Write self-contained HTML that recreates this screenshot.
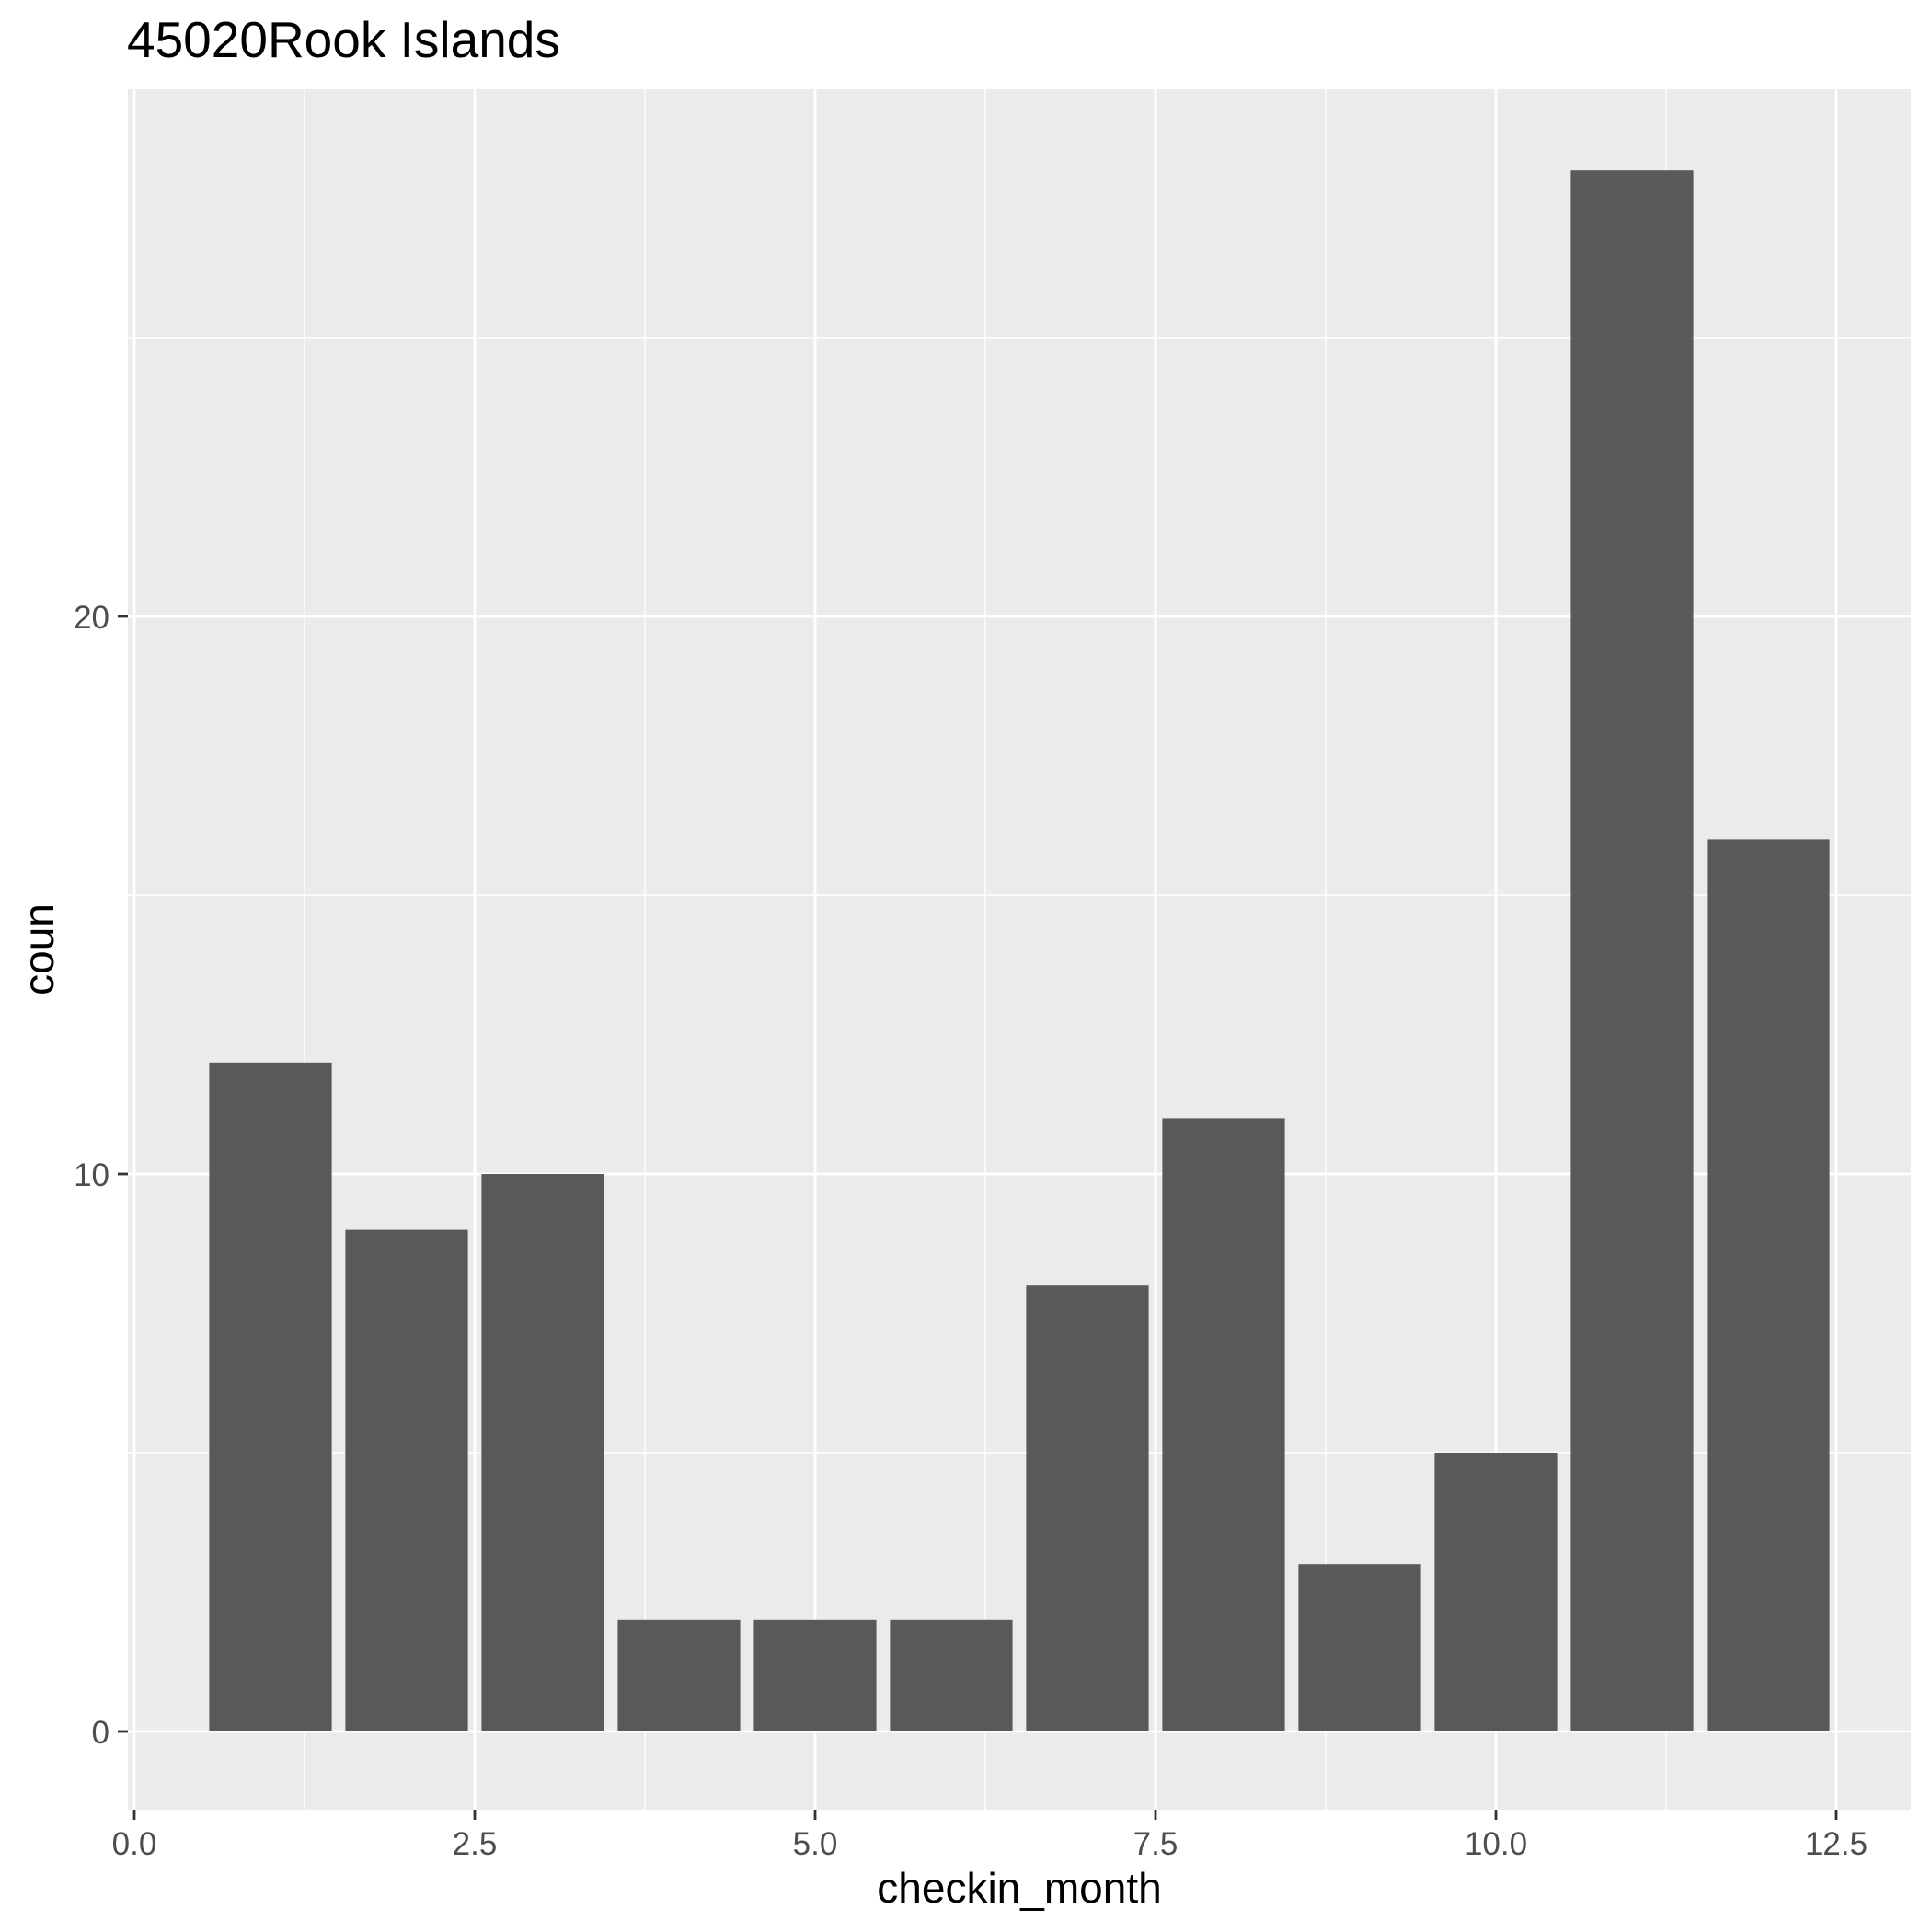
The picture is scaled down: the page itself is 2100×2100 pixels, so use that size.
<!DOCTYPE html>
<html><head><meta charset="utf-8"><style>
html,body{margin:0;padding:0;background:#fff;}
svg{display:block;font-family:"Liberation Sans",Arial,sans-serif;}
</style></head><body>
<svg id="chart" width="2100" height="2100" xmlns="http://www.w3.org/2000/svg">
<text x="138" y="62" font-size="55" fill="#000">45020Rook Islands</text>
<rect x="139" y="97" width="1938" height="1870" fill="#ebebeb"/>
<g id="grid"></g>
<g id="bars"></g>
<g id="axes"></g>
<text x="1108" y="2068" font-size="46" text-anchor="middle" fill="#000">checkin_month</text>
<text transform="translate(58,1032) rotate(-90)" font-size="46" text-anchor="middle" fill="#000">coun</text>
</svg>
<script>
const months = [1,2,3,4,5,6,7,8,9,10,11,12];
const counts = [12,9,10,2,2,2,8,11,3,5,28,16];
const xTicks = [0,2.5,5,7.5,10,12.5];
const xTickLabels = ["0.0","2.5","5.0","7.5","10.0","12.5"];
const yTicks = [0,10,20];
const yTickLabels = ["0","10","20"];

const NS="http://www.w3.org/2000/svg";
const PL=139,PR=2077,PT=97,PB=1967;
function xs(v){return 146+v*148;}
function ys(v){return 1882-v*60.6;}
function mk(tag,attrs,parent){const e=document.createElementNS(NS,tag);for(const k in attrs)e.setAttribute(k,attrs[k]);parent.appendChild(e);return e;}
const grid=document.getElementById('grid'),bars=document.getElementById('bars'),axes=document.getElementById('axes');
for(let i=0;i<xTicks.length-1;i++){const v=(xTicks[i]+xTicks[i+1])/2;
 const l=mk('line',{x1:xs(v),x2:xs(v),y1:PT,y2:PB,stroke:'#fff','stroke-width':1.4},grid);
 
 }
for(let i=0;i<yTicks.length;i++){const v=yTicks[i]+5;
 const l=mk('line',{x1:PL,x2:PR,y1:ys(v),y2:ys(v),stroke:'#fff','stroke-width':1.4},grid);
 
 }
xTicks.forEach((v,i)=>{
 const l=mk('line',{x1:xs(v),x2:xs(v),y1:PT,y2:PB,stroke:'#fff','stroke-width':2.8},grid);
 
 
 const t=mk('line',{x1:xs(v),x2:xs(v),y1:PB,y2:PB+11,stroke:'#333','stroke-width':2.8},axes);
 
 
 const tx=mk('text',{x:xs(v),y:2016,'font-size':35,'text-anchor':'middle',fill:'#4d4d4d'},axes);
 tx.textContent=xTickLabels[i];
 
 
});
yTicks.forEach((v,i)=>{
 const l=mk('line',{x1:PL,x2:PR,y1:ys(v),y2:ys(v),stroke:'#fff','stroke-width':2.8},grid);
 
 
 const t=mk('line',{x1:PL-11,x2:PL,y1:ys(v),y2:ys(v),stroke:'#333','stroke-width':2.8},axes);
 
 
 const tx=mk('text',{x:119,y:ys(v)+13,'font-size':35,'text-anchor':'end',fill:'#4d4d4d'},axes);
 tx.textContent=yTickLabels[i];
 
 
});
months.forEach((m,i)=>{
 const x0=xs(m-0.45),x1=xs(m+0.45),y0=ys(counts[i]),y1=ys(0);
 const r=mk('rect',{x:x0,y:y0,width:x1-x0,height:y1-y0,fill:'#595959'},bars);
 
 
});
</script>
</body></html>
